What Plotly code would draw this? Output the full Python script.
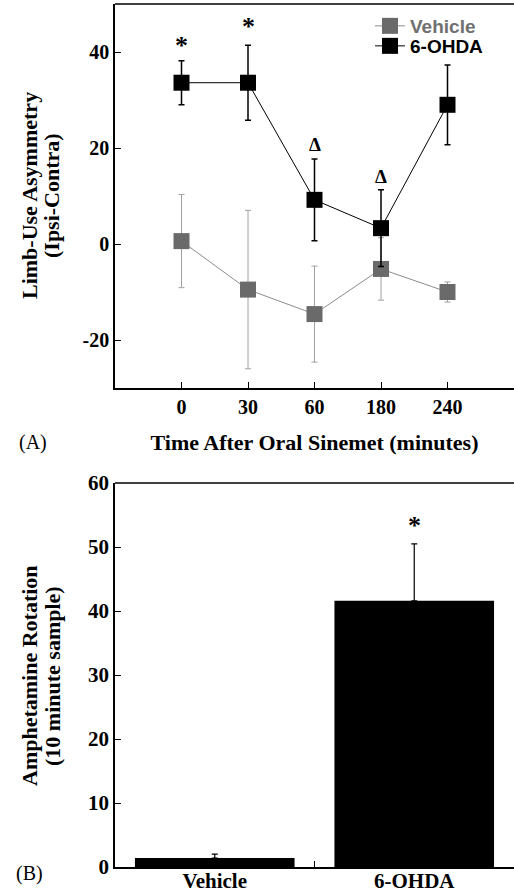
import plotly.graph_objects as go
from plotly.subplots import make_subplots

# Panel A data
time_labels = ["0", "30", "60", "180", "240"]
time_pos = [0, 1, 2, 3, 4]
vehicle_mean = [0.6, -9.5, -14.6, -5.2, -10.0]
vehicle_err = [9.7, 16.5, 10.0, 6.5, 2.1]
ohda_mean = [33.6, 33.6, 9.2, 3.3, 29.0]
ohda_err = [4.6, 7.8, 8.5, 8.0, 8.3]
a_ticks = [-20, 0, 20, 40]
a_tick_labels = ["-20", "0", "20", "40"]
star_a_pos = [0, 1]
star_a_y = [41.4, 45.3]
delta_pos = [2, 3]
delta_y = [20.7, 14.0]

# Panel B data
groups = ["Vehicle", "6-OHDA"]
group_pos = [0, 1]
rotation_mean = [1.4, 41.6]
rotation_err = [0.6, 8.9]
b_ticks = [0, 10, 20, 30, 40, 50, 60]
star_b_y = 53.3

SERIF = "Liberation Serif"
SANS = "Liberation Sans"
H = 889
W = 514
L = 115
PW = W - L

fig = make_subplots(rows=2, cols=1)

fig.add_trace(go.Scatter(
    x=time_pos, y=vehicle_mean, mode="lines+markers",
    name="<span style='color:#707070'>Vehicle</span>", legend="legend",
    line=dict(color="#8c8c8c", width=1),
    marker=dict(symbol="square", size=16, color="#6a6a6a"),
    error_y=dict(type="data", array=vehicle_err, color="#a0a0a0", thickness=1, width=3),
), row=1, col=1)

fig.add_trace(go.Scatter(
    x=time_pos, y=ohda_mean, mode="lines+markers",
    name="6-OHDA", legend="legend2",
    line=dict(color="#000000", width=1),
    marker=dict(symbol="square", size=16, color="#000000"),
    error_y=dict(type="data", array=ohda_err, color="#000000", thickness=1.5, width=3),
), row=1, col=1)

fig.add_trace(go.Bar(
    x=group_pos, y=rotation_mean, width=0.8, showlegend=False,
    marker=dict(color="#000000", line=dict(width=0)),
    error_y=dict(type="data", symmetric=False, array=rotation_err,
                 arrayminus=[0, 0], color="#000000", thickness=1.2, width=3),
), row=2, col=1)

for p, yv in zip(star_a_pos, star_a_y):
    fig.add_annotation(x=p, y=yv, xref="x", yref="y", text="*", showarrow=False,
                       font=dict(family=SERIF, size=26, color="black", weight="bold"))
for p, yv in zip(delta_pos, delta_y):
    fig.add_annotation(x=p, y=yv, xref="x", yref="y", text="Δ", showarrow=False,
                       font=dict(family=SERIF, size=19, color="black", weight="bold"))
fig.add_annotation(x=group_pos[1], y=star_b_y, xref="x2", yref="y2", text="*",
                   showarrow=False,
                   font=dict(family=SERIF, size=26, color="black", weight="bold"))

fig.add_annotation(x=(17 - L) / PW, y=1 - 443 / H, xref="paper", yref="paper",
                   text="(A)", showarrow=False, xanchor="left", yanchor="middle",
                   font=dict(family=SERIF, size=20, color="black"))
fig.add_annotation(x=(14 - L) / PW, y=1 - 873 / H, xref="paper", yref="paper",
                   text="(B)", showarrow=False, xanchor="left", yanchor="middle",
                   font=dict(family=SERIF, size=20, color="black"))

title_font = dict(family=SERIF, size=22, color="black", weight="bold")

# y-axis titles (two tightly spaced lines each)
y_titles = [
    ("Limb-Use Asymmetry", 29, 196),
    ("(Ipsi-Contra)", 51, 196),
    ("Amphetamine Rotation", 29, 676),
    ("(10 minute sample)", 52, 676),
]
for txt, px, py in y_titles:
    fig.add_annotation(x=(px - L) / PW, y=1 - py / H, xref="paper", yref="paper",
                       text=txt, textangle=-90, showarrow=False,
                       xanchor="center", yanchor="middle", font=title_font)

tick_a = dict(family=SERIF, size=20, color="black", weight="bold")
tick_b = dict(family=SERIF, size=21, color="black", weight="bold")

fig.update_xaxes(row=1, col=1, range=[-1, 5.0], tickvals=time_pos, ticktext=time_labels,
                 ticks="inside", ticklen=6, tickcolor="black", showline=True,
                 linecolor="black", linewidth=1.5, showgrid=False, automargin=False,
                 zeroline=False, tickfont=tick_a,
                 title=dict(text="Time After Oral Sinemet (minutes)", font=title_font,
                            standoff=18))
fig.update_yaxes(row=1, col=1, range=[-30, 50], tickvals=a_ticks, ticktext=a_tick_labels,
                 ticks="inside", ticklen=6, tickcolor="black", showline=True,
                 linecolor="black", linewidth=1.5, showgrid=False, zeroline=False,
                 automargin=False, tickfont=tick_a, domain=[1 - 388 / H, 1 - 4 / H])
fig.update_xaxes(row=2, col=1, range=[-0.5, 1.5], tickvals=group_pos, ticktext=groups,
                 ticks="", showline=True, linecolor="black", linewidth=1.5,
                 showgrid=False, zeroline=False, automargin=False, tickfont=tick_b,
                 ticklabelstandoff=-6,
                 minor=dict(tickvals=[0.5], ticks="inside", ticklen=6, tickcolor="black"))
fig.update_yaxes(row=2, col=1, range=[0, 60], tickvals=b_ticks,
                 ticks="inside", ticklen=6, tickcolor="black", showline=True,
                 linecolor="black", linewidth=1.5, showgrid=False, zeroline=False,
                 automargin=False, tickfont=tick_b, domain=[1 - 867 / H, 1 - 483 / H])

# top frame lines
fig.add_shape(type="line", xref="paper", yref="paper", x0=0, x1=1,
              y0=1 - 4 / H, y1=1 - 4 / H, line=dict(color="black", width=1.5))
fig.add_shape(type="line", xref="paper", yref="paper", x0=0, x1=1,
              y0=1 - 483 / H, y1=1 - 483 / H, line=dict(color="black", width=1.5))

legend_font = dict(family=SANS, size=19, color="black", weight="bold")
fig.update_layout(
    width=W, height=H,
    margin=dict(l=L, r=0, t=0, b=0, autoexpand=False),
    plot_bgcolor="white", paper_bgcolor="white",
    showlegend=True,
    legend=dict(x=(370 - L) / PW, y=1 - 26 / H, xanchor="left", yanchor="middle",
                bgcolor="rgba(0,0,0,0)", font=legend_font),
    legend2=dict(x=(370 - L) / PW, y=1 - 46 / H, xanchor="left", yanchor="middle",
                 bgcolor="rgba(0,0,0,0)", font=legend_font),
)

fig.write_html("out.html", config={"displayModeBar": False},
               post_script="document.body.style.margin='0';")
